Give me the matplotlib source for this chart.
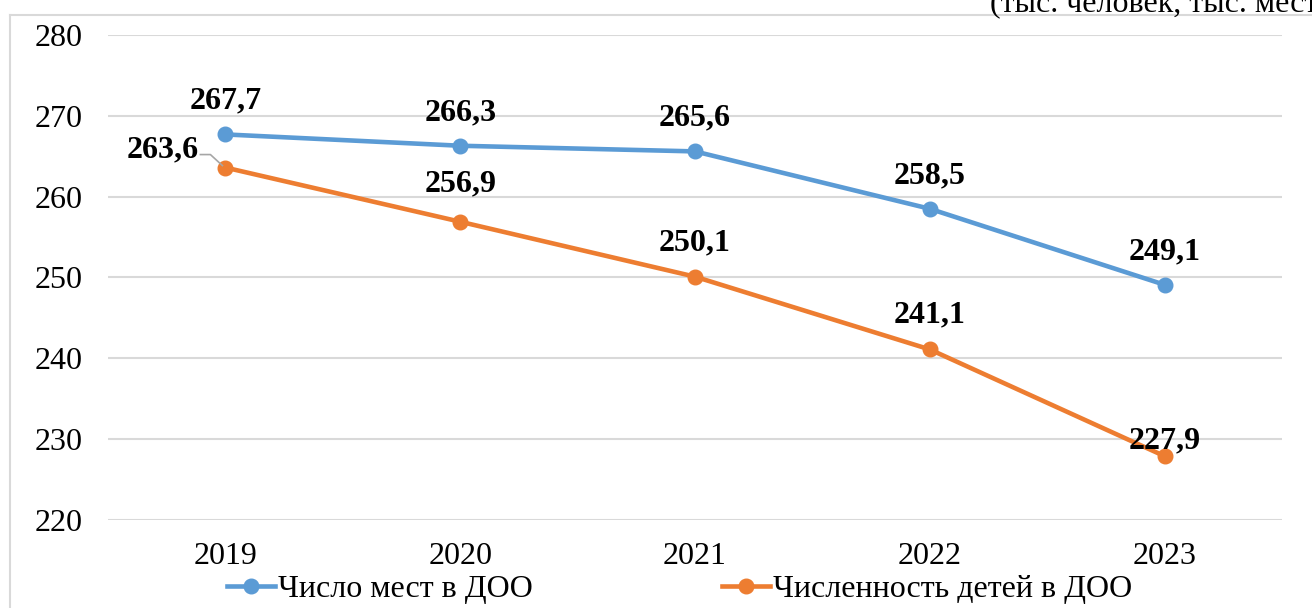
import matplotlib
matplotlib.use("Agg")
import matplotlib.pyplot as plt
from matplotlib.lines import Line2D

plt.rcParams['font.family'] = ['Liberation Serif', 'DejaVu Serif']

# data
years = ['2019', '2020', '2021', '2022', '2023']
places = [267.7, 266.3, 265.6, 258.5, 249.1]
children = [263.6, 256.9, 250.1, 241.1, 227.9]
places_name = 'Число мест в ДОО'
children_name = 'Численность детей в ДОО'
note = '(тыс. человек, тыс. мест)'

blue = '#5B9BD5'
orange = '#ED7D31'
grid_col = '#D9D9D9'
fs = 23

fig = plt.figure(figsize=(13.12, 6.08), dpi=100)
ax = fig.add_axes([108/1312, 1-520/608, (1282-108)/1312, (520-35)/608])

x = list(range(len(years)))
ax.plot(x, places, color=blue, lw=3.3, marker='o', ms=10.5, label=places_name, zorder=3)
ax.plot(x, children, color=orange, lw=3.3, marker='o', ms=10.5, label=children_name, zorder=3)

ax.set_xlim(-0.5, len(years) - 0.5)
ax.set_ylim(220, 280)
ax.set_yticks(range(220, 281, 10))
ax.set_xticks(x)
ax.set_xticklabels(years)
ax.tick_params(axis='both', length=0, labelsize=fs)
ax.tick_params(axis='y', pad=18)
ax.tick_params(axis='x', pad=16)
ax.grid(axis='y', color=grid_col, lw=1.5)
ax.set_axisbelow(True)
for s in ax.spines.values():
    s.set_visible(False)

# value labels
for i, v in enumerate(places):
    ax.annotate(f'{v:.1f}'.replace('.', ','), (i, v), xytext=(0, 24), textcoords='offset points',
                ha='center', va='center', fontsize=fs, fontweight='bold')
ch_offsets = [(-45, 13), (0, 27), (0, 24), (0, 25), (0, 11)]
for i, v in enumerate(children):
    ax.annotate(f'{v:.1f}'.replace('.', ','), (i, v), xytext=ch_offsets[i], textcoords='offset points',
                ha='center', va='center', fontsize=fs, fontweight='bold', zorder=5)

# leader line for first orange label
px, py = ax.transData.transform((0, children[0]))
leader = Line2D([px - 25, px - 15, px - 3], [py + 13, py + 13, py + 2],
                transform=None, color='#A6A6A6', lw=1.2, zorder=2)
fig.add_artist(leader)

# legend
fig.legend(loc='center', bbox_to_anchor=(0.518, 1 - 589/608), ncol=2, frameon=False,
           fontsize=fs, handlelength=1.5, handletextpad=0.1, columnspacing=5.9,
           borderaxespad=0, borderpad=0)

# outer frame (clipped by the image edges)
fig.add_artist(Line2D([10/1312, 10/1312], [-0.05, 1 - 15/608], transform=fig.transFigure,
                      color=grid_col, lw=1.5))
fig.add_artist(Line2D([10/1312, 1.05], [1 - 15/608, 1 - 15/608], transform=fig.transFigure,
                      color=grid_col, lw=1.5))

fig.text(990/1312, 1 - 11/608, note, fontsize=fs, ha='left', va='baseline')

fig.savefig('out.png', dpi=100)
